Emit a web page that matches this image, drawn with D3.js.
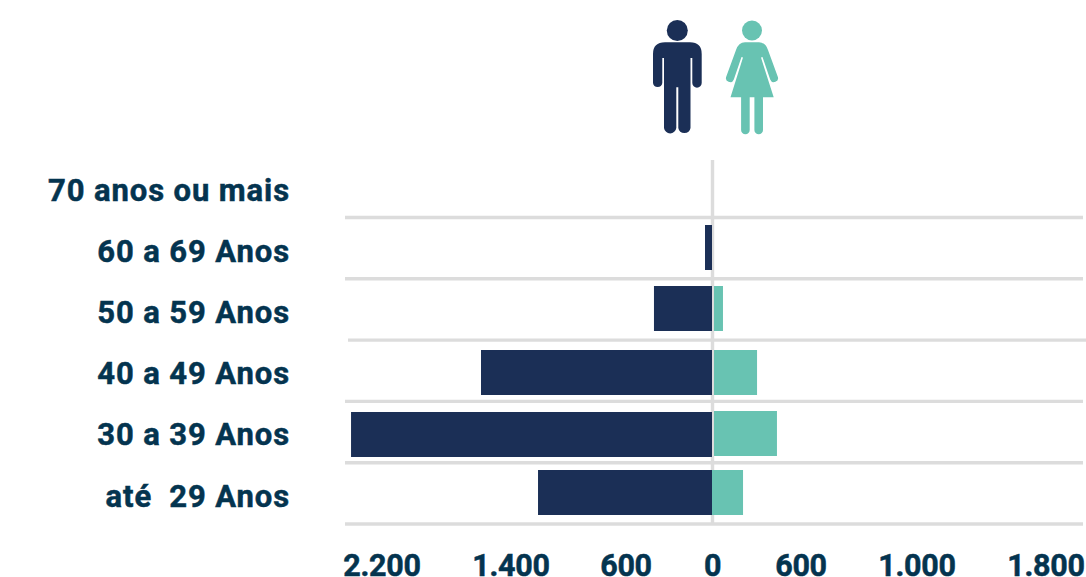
<!DOCTYPE html>
<html>
<head>
<meta charset="utf-8">
<script src="https://cdn.jsdelivr.net/npm/d3@7"></script>
<style>
html, body { margin: 0; padding: 0; background: #fff; }
svg { display: block; }
text { font-family: Roboto, sans-serif; font-weight: 700; fill: #04344f; stroke: #04344f; stroke-width: 0.5; }
</style>
</head>
<body>
<svg id="chart" width="1086" height="577"></svg>
<script>
var categories = ['70 anos ou mais', '60 a 69 Anos', '50 a 59 Anos', '40 a 49 Anos', '30 a 39 Anos', 'até  29 Anos'];
var homens = [0, 52, 406, 1586, 2392, 1212];
var mulheres = [0, 0, 71, 302, 437, 207];
var tickValues = [-2200, -1400, -600, 0, 600, 1000, 1800];

var navy = '#1b2f56', teal = '#68c3b2', grid = '#dcdcdc';
var svg = d3.select('#chart');

// the printed axis is not evenly spaced, so the scale is piecewise
var x = d3.scaleLinear()
    .domain(tickValues)
    .range([382, 511, 626, 712.5, 801, 917, 1046]);

var yLabel = d3.scalePoint().domain(categories).range([189.5, 495.5]);
var yGrid = d3.scalePoint().domain(categories).range([217.5, 524]);
// rows in the original are a little uneven
var yHomens = d3.scaleOrdinal().domain(categories).range([164, 225, 286, 350, 412, 470]);
var yMulheres = d3.scaleOrdinal().domain(categories).range([164, 225, 286, 350, 411, 470]);
var xMulheres = d3.scaleOrdinal().domain(categories).range([714, 714, 714, 714, 714, 712]);
var gridOffset = d3.scaleOrdinal().domain(categories).range([0, 0, 3, 0, 0, 0]);
var barH = 45;

svg.append('g').selectAll('line')
    .data(categories)
    .join('line')
    .attr('x1', function (d) { return 345 + gridOffset(d); })
    .attr('x2', function (d) { return 1083 + gridOffset(d); })
    .attr('y1', function (d) { return yGrid(d); })
    .attr('y2', function (d) { return yGrid(d); })
    .attr('stroke', grid)
    .attr('stroke-width', 3.4);

svg.append('line')
    .attr('x1', x(0)).attr('x2', x(0))
    .attr('y1', 160).attr('y2', 524)
    .attr('stroke', grid)
    .attr('stroke-width', 3.4);

svg.append('g').selectAll('rect')
    .data(categories)
    .join('rect')
    .attr('x', function (d, i) { return x(-homens[i]); })
    .attr('y', function (d) { return yHomens(d); })
    .attr('width', function (d, i) { return Math.max(0, x(0) - 0.5 - x(-homens[i])); })
    .attr('height', barH)
    .attr('fill', navy);

svg.append('g').selectAll('rect')
    .data(categories)
    .join('rect')
    .attr('x', function (d) { return xMulheres(d); })
    .attr('y', function (d) { return yMulheres(d); })
    .attr('width', function (d, i) { return mulheres[i] ? x(mulheres[i]) - xMulheres(d) : 0; })
    .attr('height', barH)
    .attr('fill', teal);

svg.append('g').selectAll('text')
    .data(categories)
    .join('text')
    .attr('x', 290)
    .attr('y', function (d) { return yLabel(d); })
    .attr('dy', '0.36em')
    .attr('text-anchor', 'end')
    .attr('font-size', 31)
    .attr('letter-spacing', 0.9)
    .style('white-space', 'pre')
    .text(function (d) { return d; });

var fmt = d3.format(',');
svg.append('g').selectAll('text')
    .data(tickValues)
    .join('text')
    .attr('x', function (d) { return x(d); })
    .attr('y', 576)
    .attr('text-anchor', 'middle')
    .attr('font-size', 30.5)
    .attr('letter-spacing', -0.3)
    .text(function (d) { return fmt(Math.abs(d)).replace(',', '.'); });

// man icon
var man = svg.append('g').attr('fill', navy);
man.append('circle').attr('cx', 677.3).attr('cy', 30.5).attr('r', 10.5);
man.append('path').attr('d',
    'M665 42.3 H690 Q701.7 42.3 701.7 54 V83 A4.7 4.7 0 0 1 692.3 83 V58 H690.5 V128 A6.2 6.2 0 0 1 678.3 128 V87.3 H676.3 V128 ' +
    'A6.2 6.2 0 0 1 664 128 V58 H662.3 V83 A4.7 4.7 0 0 1 653 83 V54 Q653 42.3 665 42.3 Z');

// woman icon
var woman = svg.append('g').attr('fill', teal);
woman.append('circle').attr('cx', 752).attr('cy', 30.5).attr('r', 10);
woman.append('path').attr('d',
    'M745 42.3 H759 Q765.5 42.5 768 50 L777.7 76.5 A4 4 0 0 1 770.2 79.5 L762.5 57 L761 57.5 L773.7 97.3 H763 V130 ' +
    'A4.3 4.3 0 0 1 754.4 130 V97.3 H749.7 V130 A4.3 4.3 0 0 1 741.1 130 V97.3 H730.5 L743 57.5 L741.5 57 ' +
    'L733.8 79.5 A4 4 0 0 1 726.3 76.5 L736 50 Q738.5 42.5 745 42.3 Z');
</script>
</body>
</html>
